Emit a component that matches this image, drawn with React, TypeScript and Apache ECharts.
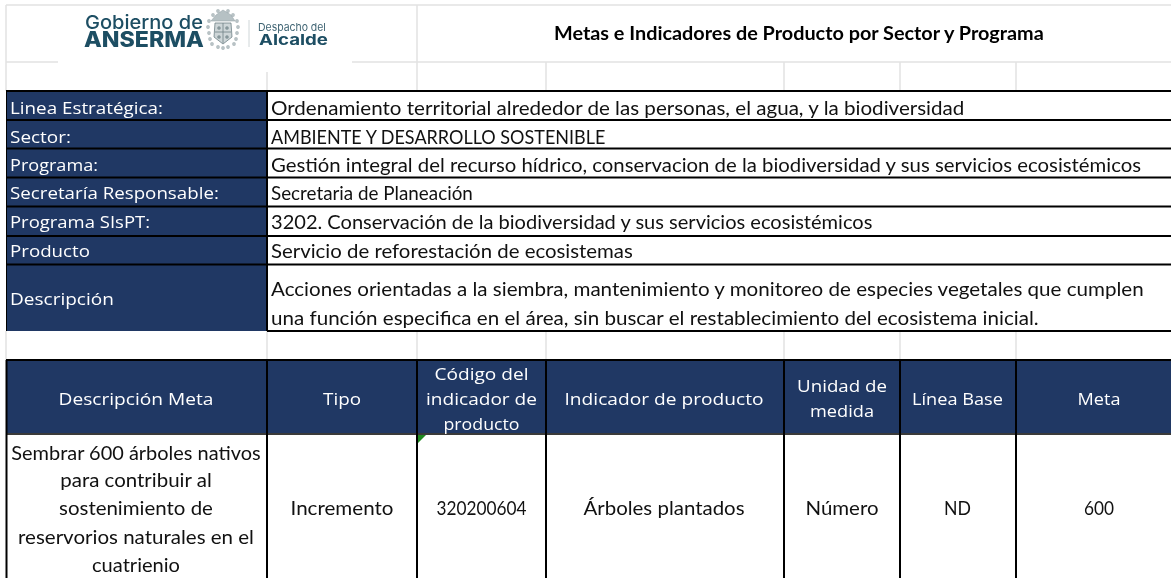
import React, { useEffect, useRef } from "react";
import * as echarts from "echarts";

const NAVY = "#203864";
const BLACK = "#000000";
const GRID = "#e2e2e2";
const TEAL = "#1d4e63";

const title = "Metas e Indicadores de Producto por Sector y Programa";
const rowLabels = ["Linea Estratégica:", "Sector:", "Programa:", "Secretaría Responsable:", "Programa SIsPT:", "Producto", "Descripción"];
const rowValues = [
  ["Ordenamiento territorial alrededor de las personas, el agua, y la biodiversidad"],
  ["AMBIENTE Y DESARROLLO SOSTENIBLE"],
  ["Gestión integral del recurso hídrico, conservacion de la biodiversidad y sus servicios ecosistémicos"],
  ["Secretaria de Planeación"],
  ["3202. Conservación de la biodiversidad y sus servicios ecosistémicos"],
  ["Servicio de reforestación de ecosistemas"],
  ["Acciones orientadas a la siembra, mantenimiento y monitoreo de especies vegetales que cumplen", "una función especifica en el área, sin buscar el restablecimiento del ecosistema inicial."],
];
const headers = [["Descripción Meta"], ["Tipo"], ["Código del", "indicador de", "producto"], ["Indicador de producto"], ["Unidad de", "medida"], ["Línea Base"], ["Meta"]];
const cells = [
  ["Sembrar 600 árboles nativos", "para contribuir al", "sostenimiento de", "reservorios naturales en el", "cuatrienio"],
  ["Incremento"], ["320200604"], ["Árboles plantados"], ["Número"], ["ND"], ["600"],
];

// layout
const colX = [6, 267, 417, 546, 784, 900, 1016, 1171];
const rowY = [91, 120, 148.5, 177.5, 206.5, 236, 264.5, 331];
const rowCY = [107.5, 136.5, 164.5, 192.5, 221.5, 250.5, 298];
const labelW = [153, 61, 88, 209, 140, 80, 104];
const valueW = [[695], [336], [872], [202], [603], [362], [875, 769]];
const headerW = [[155], [38], [94, 111, 76], [199], [90, 64], [91], [43]];
const cellW = [[250, 152, 154, 236, 88], [103], [90], [161], [73], [27], [30]];

const measureCtx = document.createElement("canvas").getContext("2d")!;
function T(str: string, x: number, y: number, o: any) {
  const fontSize = o.size, fontFamily = o.family, fontWeight = o.weight || "normal";
  measureCtx.font = `${fontWeight} ${fontSize}px ${fontFamily}`;
  const m = measureCtx.measureText(str).width;
  const sx = o.w ? o.w / m : 1;
  const align = o.align || "left";
  return {
    type: "text", x, y, scaleX: sx, scaleY: 1, silent: true,
    style: { text: str, x: 0, y: 0, fill: o.fill || BLACK, fontSize, fontFamily, fontWeight, textAlign: align, textVerticalAlign: "middle" },
  };
}
const L = (x1: number, y1: number, x2: number, y2: number, stroke: string, lineWidth: number) => ({
  type: "line", silent: true, shape: { x1, y1, x2, y2 }, style: { stroke, lineWidth },
});
const R = (x: number, y: number, width: number, height: number, fill: string) => ({
  type: "rect", silent: true, shape: { x, y, width, height }, style: { fill },
});

function crest() {
  const C = "#9aa8ac", D = "#6f8187";
  const els: any[] = [];
  els.push({ type: "polygon", silent: true, shape: { points: [[215, 23], [231, 23], [232, 37], [223, 44], [214, 37]] }, style: { fill: "#ced6d8", stroke: D, lineWidth: 0.8 } });
  els.push(L(223, 23, 223, 43, D, 0.8));
  els.push(L(215, 32, 231, 32, D, 0.8));
  els.push({ type: "polygon", silent: true, shape: { points: [[216, 15], [223, 10], [231, 15], [235, 21], [211, 21]] }, style: { fill: "#b6c1c4", stroke: C, lineWidth: 0.6 } });
  const dots = [[209, 21], [208, 27], [209, 33], [210, 39], [212, 44], [237, 21], [238, 27], [237, 33], [236, 39], [234, 44], [228, 47], [218, 47], [223, 48], [213, 15], [233, 15], [218, 11], [228, 11]];
  dots.forEach(([cx, cy]) => els.push({ type: "circle", silent: true, shape: { cx, cy, r: 1.9 }, style: { fill: C, opacity: 0.7 } }));
  [[219, 28], [227, 28], [219, 37], [227, 37]].forEach(([cx, cy]) => els.push({ type: "circle", silent: true, shape: { cx, cy, r: 1.8 }, style: { fill: D, opacity: 0.75 } }));
  return els;
}

function build() {
  const els: any[] = [];
  els.push(R(0, 0, 1171, 578, "#ffffff"));

  // light spreadsheet gridlines, upper band
  els.push(L(6, 5, 1171, 5, GRID, 1.5));
  els.push(L(6, 5, 6, 91, GRID, 1.5));
  els.push(L(417, 5, 417, 91, GRID, 1.5));
  els.push(L(6, 62, 58, 62, GRID, 1.5));
  els.push(L(352, 62, 1171, 62, GRID, 1.5));
  els.push(L(267, 72, 267, 91, GRID, 1.5));
  colX.slice(3, 7).forEach((x) => els.push(L(x, 62, x, 91, GRID, 1.5)));
  // light gridlines, gap band
  colX.slice(0, 7).forEach((x) => els.push(L(x, 331, x, 360, GRID, 1.5)));

  // logo
  els.push(T("Gobierno de", 85, 22.5, { size: 19, family: "Inter", weight: 500, w: 118, fill: TEAL }));
  els.push(T("ANSERMA", 84, 39.5, { size: 21, family: "Inter", weight: 800, w: 120, fill: TEAL }));
  els.push(...crest());
  els.push(L(249, 20, 249, 47, "#cfd6d8", 1));
  els.push(T("Despacho del", 258, 27.5, { size: 11, family: "Inter", weight: 400, w: 68, fill: "#3f6473" }));
  els.push(T("Alcalde", 259, 40, { size: 15, family: "Inter", weight: 700, w: 69, fill: TEAL }));

  // title
  els.push(T(title, 554, 33, { size: 19, family: "Lato", weight: "bold", w: 492 }));

  // info rows
  rowLabels.forEach((lab, i) => {
    const y0 = rowY[i], y1 = rowY[i + 1];
    els.push(R(colX[0], y0, colX[1] - colX[0], y1 - y0, NAVY));
    els.push(T(lab, 10, rowCY[i], { size: 17, family: "Open Sans", w: labelW[i], fill: "#ffffff" }));
    const lines = rowValues[i];
    lines.forEach((ln, k) => {
      const vy = lines.length > 1 ? 288.5 + k * 28.5 : rowCY[i];
      els.push(T(ln, 271, vy, { size: 20, family: "Lato", w: valueW[i][k], fill: "#111111" }));
    });
  });
  rowY.forEach((y, i) => {
    if (i < rowY.length - 1) els.push(L(6, y, 1171, y, BLACK, 2));
    else els.push(L(267, y, 1171, y, BLACK, 2));
  });
  els.push(L(267, 91, 267, 331, BLACK, 2));
  els.push(L(6.5, 91, 6.5, 331, BLACK, 1));

  // lower table
  els.push(R(6, 360, 1165, 74, NAVY));
  els.push(L(6, 360, 1171, 360, BLACK, 2));
  els.push(L(6, 434, 1171, 434, "#3a3a3a", 2));
  colX.slice(0, 7).forEach((x) => els.push(L(x + (x === 6 ? 0.5 : 0), 360, x + (x === 6 ? 0.5 : 0), 578, BLACK, 2)));
  els.push({ type: "polygon", silent: true, shape: { points: [[418, 435], [426, 435], [418, 443]] }, style: { fill: "#1f8a1f" } });

  const centers = [136, 342, 481.5, 664, 842, 957.5, 1099];
  const headerY: Record<number, number[]> = { 1: [398], 2: [385, 410], 3: [373, 398, 423] };
  headers.forEach((lines, c) => {
    lines.forEach((ln, k) => {
      els.push(T(ln, centers[c], headerY[lines.length][k], { size: 17, family: "Open Sans", w: headerW[c][k], fill: "#ffffff", align: "center" }));
    });
  });
  const cellY: Record<number, number[]> = { 1: [507.5], 5: [451.5, 479.5, 507.5, 536.5, 564.5] };
  cells.forEach((lines, c) => {
    lines.forEach((ln, k) => {
      els.push(T(ln, centers[c], cellY[lines.length][k], { size: 20, family: "Lato", w: cellW[c][k], fill: "#111111", align: "center" }));
    });
  });
  return els;
}

export default function App() {
  const ref = useRef<HTMLDivElement>(null);
  useEffect(() => {
    const chart = echarts.init(ref.current!, undefined, { renderer: "svg" });
    chart.setOption({ animation: false, graphic: { elements: build() } });
    return () => chart.dispose();
  }, []);
  return <div ref={ref} style={{ position: "fixed", left: 0, top: 0, width: 1171, height: 578 }} />;
}
